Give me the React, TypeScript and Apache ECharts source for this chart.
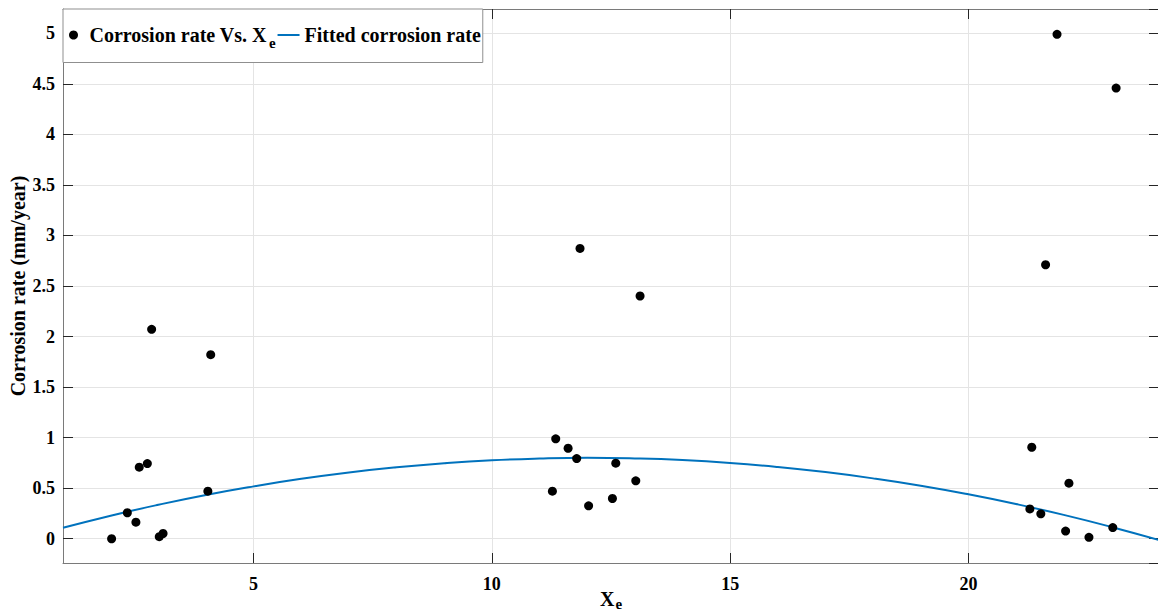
import React, { useEffect, useRef } from 'react';
import * as echarts from 'echarts';

// Measured corrosion rate (mm/year) vs X_e
const scatterX = [
  2.02, 2.35, 2.53, 2.6, 2.77, 2.86, 3.02, 3.1, 4.04, 4.1,
  11.27, 11.34, 11.6, 11.78, 11.85, 12.03, 12.53, 12.6, 13.02, 13.11,
  21.29, 21.33, 21.52, 21.62, 21.86, 22.04, 22.11, 22.53, 23.03, 23.1,
];
const scatterY = [
  0.0, 0.257, 0.164, 0.708, 0.744, 2.071, 0.02, 0.052, 0.47, 1.821,
  0.47, 0.988, 0.895, 0.793, 2.872, 0.326, 0.398, 0.747, 0.573, 2.401,
  0.295, 0.905, 0.246, 2.71, 4.99, 0.076, 0.55, 0.014, 0.11, 4.458,
];

// Fitted corrosion rate curve
const fitX = [1, 2, 3, 4, 5, 6, 7, 8, 9, 10, 11, 12, 13, 14, 15, 16, 17, 18, 19, 20, 21, 22, 23, 24];
const fitY = [
  0.108, 0.228, 0.336, 0.433, 0.518, 0.593, 0.656, 0.707, 0.747, 0.776, 0.793, 0.8,
  0.794, 0.778, 0.75, 0.71, 0.659, 0.597, 0.524, 0.439, 0.343, 0.236, 0.117, -0.013,
];

const xMin = 1;
const xMax = 24;
const xStep = 5;
const yMin = -0.24;
const yMax = 5.24;
const yStep = 0.5;

const SCATTER_NAME = 'Corrosion rate Vs. Xe';
const FIT_NAME = 'Fitted corrosion rate';

const FONT = "'Liberation Serif', 'Times New Roman', serif";

export default function App() {
  const ref = useRef<HTMLDivElement>(null);

  useEffect(() => {
    if (!ref.current) return;
    const chart = echarts.init(ref.current, null, { renderer: 'svg' });

    const axisLineStyle = { color: '#7a7a7a', width: 1 };
    const tickStyle = { color: '#262626', width: 1 };
    const labelStyle = {
      fontFamily: FONT,
      fontWeight: 'bold' as const,
      fontSize: 18,
      color: '#000',
      showMinLabel: false,
      showMaxLabel: false,
    };
    const gridLine = { show: true, lineStyle: { color: '#e4e4e4', width: 1 } };

    chart.setOption({
      animation: false,
      backgroundColor: '#fff',
      grid: {
        left: 63,
        top: 9,
        width: 1096,
        height: 554,
        containLabel: false,
        outerBoundsMode: 'none',
      },
      legend: {
        left: 63,
        top: 9,
        orient: 'horizontal',
        backgroundColor: '#fff',
        borderColor: '#8f8f8f',
        borderWidth: 1,
        borderRadius: 0,
        padding: [16, 2, 12, 6],
        itemWidth: 22,
        itemHeight: 9,
        itemGap: 2,
        symbolKeepAspect: true,
        data: [
          { name: SCATTER_NAME, icon: 'circle' },
          { name: FIT_NAME, icon: 'path://M0,0 L22,0 L22,2 L0,2 Z' },
        ],
        formatter: (name: string) =>
          name === SCATTER_NAME ? '{n|Corrosion rate Vs. X}{s|e}' : '{n|' + name + '}',
        textStyle: {
          fontFamily: FONT,
          fontWeight: 'bold',
          fontSize: 20,
          color: '#000',
          rich: {
            n: { fontFamily: FONT, fontWeight: 'bold', fontSize: 20, color: '#000' },
            s: {
              fontFamily: FONT,
              fontWeight: 'bold',
              fontSize: 15,
              color: '#000',
              padding: [16, 0, 0, 2],
            },
          },
        },
      },
      xAxis: [
        {
          type: 'value',
          position: 'bottom',
          min: xMin,
          max: xMax,
          splitNumber: 5,
          minInterval: xStep,
          maxInterval: xStep,
          axisLine: { show: true, onZero: false, lineStyle: axisLineStyle },
          axisTick: { show: true, inside: true, length: 10, lineStyle: tickStyle },
          axisLabel: { ...labelStyle, margin: 12 },
          splitLine: gridLine,
          name: '{x|X}{s|e}',
          nameLocation: 'middle',
          nameGap: 24,
          nameMoveOverlap: false,
          nameTextStyle: {
            fontFamily: FONT,
            fontWeight: 'bold',
            fontSize: 20,
            color: '#000',
            verticalAlign: 'top',
            rich: {
              x: { fontFamily: FONT, fontWeight: 'bold', fontSize: 20, color: '#000' },
              s: {
                fontFamily: FONT,
                fontWeight: 'bold',
                fontSize: 15,
                color: '#000',
                padding: [9, 0, 0, 1],
              },
            },
          },
        },
        {
          type: 'value',
          position: 'top',
          min: xMin,
          max: xMax,
          splitNumber: 5,
          minInterval: xStep,
          maxInterval: xStep,
          axisLine: { show: true, onZero: false, lineStyle: axisLineStyle },
          axisTick: { show: true, inside: true, length: 10, lineStyle: tickStyle },
          axisLabel: { show: false },
          splitLine: { show: false },
        },
      ],
      yAxis: [
        {
          type: 'value',
          position: 'left',
          min: yMin,
          max: yMax,
          splitNumber: 11,
          minInterval: yStep,
          maxInterval: yStep,
          axisLine: { show: true, onZero: false, lineStyle: axisLineStyle },
          axisTick: { show: true, inside: true, length: 10, lineStyle: tickStyle },
          axisLabel: { ...labelStyle, margin: 8 },
          splitLine: gridLine,
          name: 'Corrosion rate (mm/year)',
          nameLocation: 'middle',
          nameGap: 35,
          nameMoveOverlap: false,
          nameTextStyle: { fontFamily: FONT, fontWeight: 'bold', fontSize: 20, color: '#000' },
        },
        {
          type: 'value',
          position: 'right',
          min: yMin,
          max: yMax,
          splitNumber: 11,
          minInterval: yStep,
          maxInterval: yStep,
          axisLine: { show: true, onZero: false, lineStyle: axisLineStyle },
          axisTick: { show: true, inside: true, length: 10, lineStyle: tickStyle },
          axisLabel: { show: false },
          splitLine: { show: false },
        },
      ],
      series: [
        {
          name: SCATTER_NAME,
          type: 'scatter',
          xAxisIndex: 0,
          yAxisIndex: 0,
          data: scatterX.map((x, i) => [x, scatterY[i]]),
          symbol: 'circle',
          symbolSize: 9,
          itemStyle: { color: '#000', opacity: 1 },
          z: 3,
        },
        {
          name: FIT_NAME,
          type: 'line',
          xAxisIndex: 0,
          yAxisIndex: 0,
          data: fitX.map((x, i) => [x, fitY[i]]),
          smooth: true,
          symbol: 'none',
          showSymbol: false,
          lineStyle: { color: '#0072BD', width: 2 },
          itemStyle: { color: '#0072BD' },
          z: 2,
        },
      ],
    });

    return () => chart.dispose();
  }, []);

  return (
    <div
      ref={ref}
      style={{ position: 'absolute', left: 0, top: 0, width: 1158, height: 612, background: '#fff' }}
    />
  );
}
